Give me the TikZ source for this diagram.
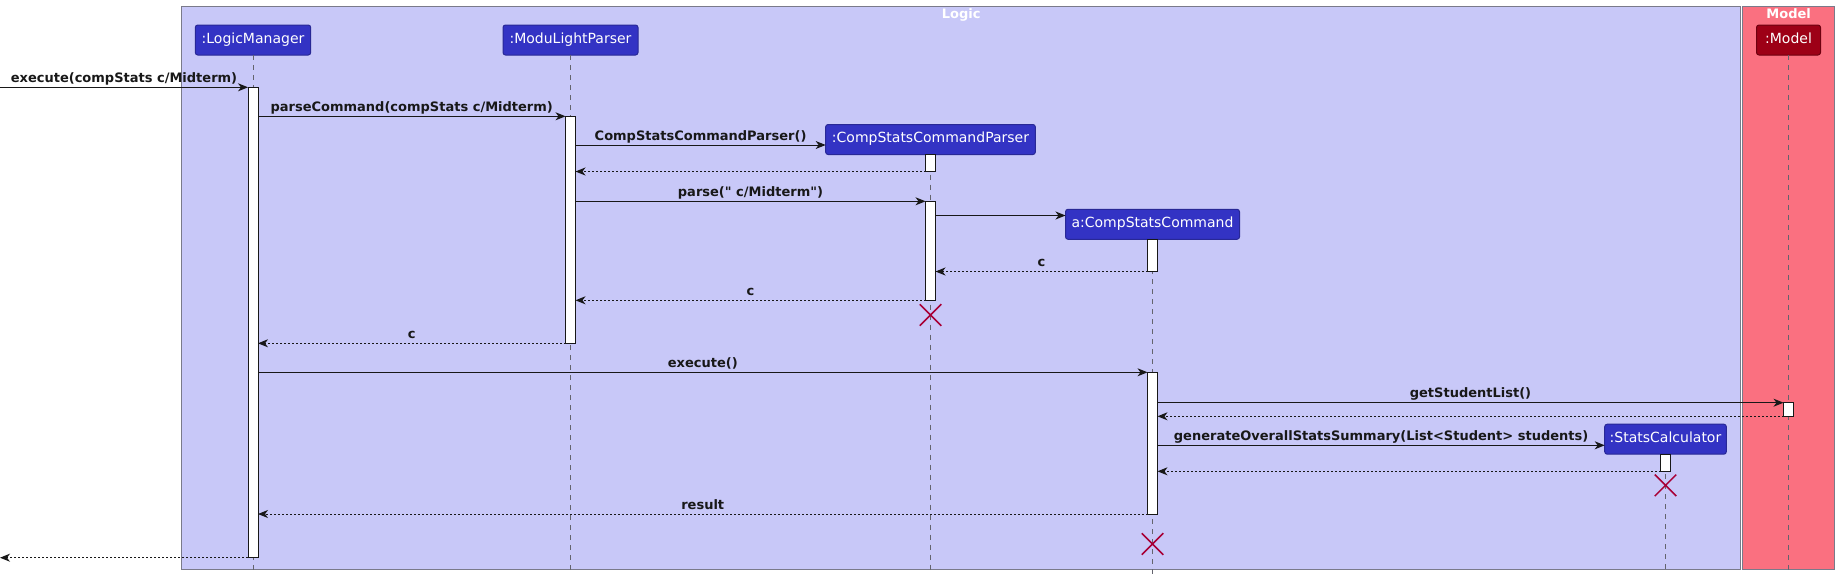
\documentclass[tikz,border=0pt]{standalone}
\usepackage{fontspec}
\setmainfont{DejaVu Sans}[Ligatures=TeXOff]
\usepackage{tikz}
\usepackage{xcolor}
\usetikzlibrary{arrows.meta, shapes.misc, positioning}
\definecolor{umlblue}{RGB}{51, 51, 196}
\definecolor{umlblueline}{RGB}{40, 40, 150}
\definecolor{umlred}{RGB}{157, 0, 22}
\definecolor{umlredline}{RGB}{110, 0, 15}
\definecolor{umllogic}{RGB}{200, 200, 248}
\definecolor{umlmodel}{RGB}{250, 112, 128}
\definecolor{umlframe}{RGB}{122, 122, 138}
\definecolor{umlgray}{RGB}{100, 100, 110}
\definecolor{umlline}{RGB}{24, 24, 24}
\definecolor{umldestroy}{RGB}{168, 0, 54}

\begin{document}
\begin{tikzpicture}[
    x=1pt, y=-1pt,
    group/.style={
        draw=umlframe,
        line width=1pt
    },
    grouptitle/.style={
        font=\bfseries\fontsize{13}{15}\selectfont,
        text=white,
        anchor=base,
        inner sep=0pt
    },
    part/.style={
        rectangle,
        rounded corners=2.5pt,
        draw=umlblueline,
        fill=umlblue,
        text=white,
        line width=1pt,
        minimum height=30pt,
        inner sep=0pt,
        outer sep=0pt,
        text height=10.2pt,
        text depth=3.3pt,
        font=\fontsize{14}{16}\selectfont
    },
    act/.style={
        rectangle,
        draw=umlline,
        fill=white,
        line width=1pt,
        minimum width=10pt,
        inner sep=0pt,
        outer sep=0pt
    },
    lifeline/.style={
        draw=umlgray,
        line width=0.8pt,
        dash pattern=on 5pt off 5pt
    },
    msg/.style={
        ->,
        >={Stealth[length=10pt, width=8pt, inset=3pt]},
        draw=umlline,
        line width=1pt
    },
    ret/.style={
        msg,
        dash pattern=on 2pt off 2pt
    },
    lbl/.style={
        font=\bfseries\fontsize{13}{15}\selectfont,
        text=umlline,
        anchor=base,
        yshift=5pt,
        inner sep=0pt
    },
    destroy/.style={
        cross out,
        draw=umldestroy,
        line width=1.5pt,
        minimum size=20pt,
        inner sep=0pt
    }
]

\useasboundingbox (0,0) rectangle (1839,581);

% Group frames
\filldraw[group, fill=umllogic] (181.7,6) rectangle (1740.7,569.3);
\filldraw[group, fill=umlmodel] (1742.7,6) rectangle (1834.7,569.3);
\node[grouptitle] (logicTitle) at (961.2,18) {Logic};
\node[grouptitle] (modelTitle) at (1788.7,18) {Model};

% Participants
\node[part, minimum width=115.4pt] (lm) at (253,40) {:LogicManager};
\node[part, minimum width=135pt] (mlp) at (570.5,40) {:ModuLightParser};
\node[part, minimum width=209.7pt] (cscp) at (930.5,139.5) {:CompStatsCommandParser};
\node[part, minimum width=174pt] (csc) at (1152.5,224.3) {a:CompStatsCommand};
\node[part, minimum width=121.6pt] (sc) at (1665.5,439.2) {:StatsCalculator};
\node[part, minimum width=64pt, fill=umlred, draw=umlredline] (mdl) at (1788.5,40) {:Model};

% Lifelines
\coordinate (bottom) at (0,574);
\foreach \p in {lm, mlp, cscp, csc, sc, mdl} {
    \draw[lifeline] (\p.south) -- (\p.south |- bottom);
}

% Activations
\node[act, minimum height=470.4pt] (lmAct) at (253,322.5) {};
\node[act, minimum height=227pt] (mlpAct) at (570.5,229.8) {};
\node[act, minimum height=17.2pt] (cscpActA) at (930.5,162.9) {};
\node[act, minimum height=99pt] (cscpActB) at (930.5,250.8) {};
\node[act, minimum height=32.2pt] (cscActA) at (1152.5,255.4) {};
\node[act, minimum height=141.7pt] (cscActB) at (1152.5,443.15) {};
\node[act, minimum height=13.6pt] (mdlAct) at (1788.5,409.5) {};
\node[act, minimum height=17.3pt] (scAct) at (1665.5,462.65) {};

% Messages
\coordinate (caller) at (0,87.3);
\coordinate (newParser) at (0,145);
\coordinate (newCommand) at (0,215.5);
\coordinate (newCalc) at (0,445.3);

\draw[msg] (caller) -- node[lbl] {execute(compStats c/Midterm)} (lmAct.north west);
\draw[msg] (lmAct.east |- mlpAct.north) -- node[lbl] {parseCommand(compStats c/Midterm)} (mlpAct.north west);
\draw[msg] (mlpAct.east |- newParser) -- node[lbl] {CompStatsCommandParser()} (cscp.west |- newParser);
\draw[ret] (cscpActA.south west) -- (mlpAct.east |- cscpActA.south);
\draw[msg] (mlpAct.east |- cscpActB.north) -- node[lbl] {parse(" c/Midterm")} (cscpActB.north west);
\draw[msg] (cscpActB.east |- newCommand) -- (csc.west |- newCommand);
\draw[ret] (cscActA.south west) -- node[lbl] {c} (cscpActB.east |- cscActA.south);
\draw[ret] (cscpActB.south west) -- node[lbl] {c} (mlpAct.east |- cscpActB.south);
\draw[ret] (mlpAct.south west) -- node[lbl] {c} (lmAct.east |- mlpAct.south);
\draw[msg] (lmAct.east |- cscActB.north) -- node[lbl] {execute()} (cscActB.north west);
\draw[msg] (cscActB.east |- mdlAct.north) -- node[lbl] {getStudentList()} (mdlAct.north west);
\draw[ret] (mdlAct.south west) -- (cscActB.east |- mdlAct.south);
\draw[msg] (cscActB.east |- newCalc) -- node[lbl] {generateOverallStatsSummary(List<Student> students)} (sc.west |- newCalc);
\draw[ret] (scAct.south west) -- (cscActB.east |- scAct.south);
\draw[ret] (cscActB.south west) -- node[lbl] {result} (lmAct.east |- cscActB.south);
\draw[ret] (lmAct.south west) -- (caller |- lmAct.south);

% Destroyed objects
\node[destroy] (cscpEnd) at (930.5,315) {};
\node[destroy] (scEnd) at (1665.5,485.3) {};
\node[destroy] (cscEnd) at (1152.5,544) {};

\end{tikzpicture}
\end{document}
